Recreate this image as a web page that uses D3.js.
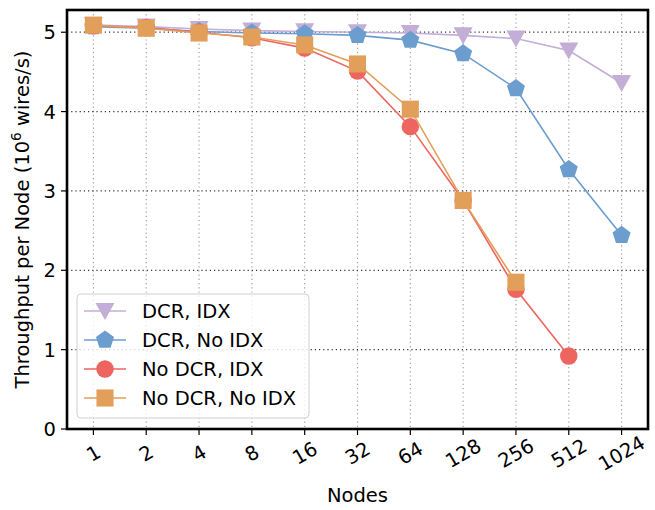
<!DOCTYPE html>
<html>
<head>
<meta charset="utf-8">
<script src="https://cdn.jsdelivr.net/npm/d3@7"></script>
<style>
  html, body { margin: 0; padding: 0; background: #fff; }
  svg { display: block; font-family: "DejaVu Sans", sans-serif; }
</style>
</head>
<body>
<svg id="chart" width="655" height="510"></svg>
<script>
// Node counts on the x axis (categorical, log2 spaced)
const nodes = ["1", "2", "4", "8", "16", "32", "64", "128", "256", "512", "1024"];
const yTicks = [0, 1, 2, 3, 4, 5];

// Throughput per node, 10^6 wires/s
const dcrIdx     = [5.09, 5.07, 5.04, 5.02, 5.01, 5.00, 4.99, 4.96, 4.92, 4.77, 4.36];
const dcrNoIdx   = [5.07, 5.05, 5.01, 4.99, 4.98, 4.96, 4.90, 4.73, 4.29, 3.27, 2.44];
const noDcrIdx   = [5.08, 5.06, 5.00, 4.93, 4.80, 4.51, 3.81, 2.88, 1.76, 0.92];
const noDcrNoIdx = [5.09, 5.05, 4.99, 4.94, 4.84, 4.60, 4.03, 2.88, 1.85];

const seriesNames  = ["DCR, IDX", "DCR, No IDX", "No DCR, IDX", "No DCR, No IDX"];
const seriesValues = [dcrIdx, dcrNoIdx, noDcrIdx, noDcrNoIdx];
const seriesColors = ["#c2aed6", "#6c9dcf", "#ee655f", "#e29f5a"];
const seriesShapes = ["triDown", "pentagon", "circle", "square"];

const svg = d3.select("#chart");
const m = { left: 67, right: 648, top: 10, bottom: 429 };
const FS = 19.5;

const x = d3.scaleLinear().domain([-0.5, nodes.length - 0.5]).range([m.left, m.right]);
const y = d3.scaleLinear().domain([0, 5.28]).range([m.bottom, m.top]);

// grid
const grid = svg.append("g");
grid.selectAll("line.v").data(nodes).join("line")
  .attr("x1", (d, i) => x(i)).attr("x2", (d, i) => x(i))
  .attr("y1", m.top).attr("y2", m.bottom)
  .attr("stroke", "#a0a0a0").attr("stroke-width", 1.2).attr("stroke-dasharray", "1.2,3");
grid.selectAll("line.h").data(yTicks.filter(t => t > 0)).join("line")
  .attr("x1", m.left).attr("x2", m.right)
  .attr("y1", d => y(d)).attr("y2", d => y(d))
  .attr("stroke", "#333").attr("stroke-width", 1.2).attr("stroke-dasharray", "1.2,3");

// marker shapes
function markerPath(shape, s) {
  const r = s / 2;
  if (shape === "triDown") {
    return `M${-r},${-r * 0.85}L${r},${-r * 0.85}L0,${r * 0.95}Z`;
  }
  if (shape === "square") {
    const h = r * 0.9;
    return `M${-h},${-h}L${h},${-h}L${h},${h}L${-h},${h}Z`;
  }
  if (shape === "pentagon") {
    const pr = r * 1.0;
    const pts = d3.range(5).map(k => {
      const a = -Math.PI / 2 + k * 2 * Math.PI / 5;
      return [pr * Math.cos(a), pr * Math.sin(a)];
    });
    return "M" + pts.map(p => p.join(",")).join("L") + "Z";
  }
  const cr = r * 0.92;
  return `M${cr},0A${cr},${cr} 0 1,1 ${-cr},0A${cr},${cr} 0 1,1 ${cr},0Z`;
}

const MS = 19;
const line = d3.line().x((d, i) => x(i)).y(d => y(d));
seriesValues.forEach((vals, k) => {
  const g = svg.append("g");
  g.append("path").datum(vals).attr("d", line)
    .attr("fill", "none").attr("stroke", seriesColors[k]).attr("stroke-width", 1.6);
  g.selectAll("path.mk").data(vals).join("path")
    .attr("transform", (d, i) => `translate(${x(i)},${y(d)})`)
    .attr("d", markerPath(seriesShapes[k], MS))
    .attr("fill", seriesColors[k]);
});

// spines
svg.append("rect").attr("x", m.left).attr("y", m.top)
  .attr("width", m.right - m.left).attr("height", m.bottom - m.top)
  .attr("fill", "none").attr("stroke", "#000").attr("stroke-width", 2.6);

// y axis
const yAxis = svg.append("g");
yAxis.selectAll("line").data(yTicks).join("line")
  .attr("x1", m.left - 6).attr("x2", m.left).attr("y1", d => y(d)).attr("y2", d => y(d))
  .attr("stroke", "#000").attr("stroke-width", 1.2);
yAxis.selectAll("text").data(yTicks).join("text")
  .attr("x", m.left - 11).attr("y", d => y(d)).attr("dy", "0.36em")
  .attr("text-anchor", "end").attr("font-size", FS).text(d => d);

// x axis
const xAxis = svg.append("g");
xAxis.selectAll("line").data(nodes).join("line")
  .attr("x1", (d, i) => x(i)).attr("x2", (d, i) => x(i))
  .attr("y1", m.bottom).attr("y2", m.bottom + 6)
  .attr("stroke", "#000").attr("stroke-width", 1.2);
xAxis.selectAll("text").data(nodes).join("text")
  .attr("transform", (d, i) => `translate(${x(i)},${m.bottom + 24}) rotate(-30)`)
  .attr("text-anchor", "middle").attr("dy", "0.36em")
  .attr("font-size", FS).text(d => d);

// axis titles
svg.append("text").attr("x", (m.left + m.right) / 2).attr("y", 502)
  .attr("text-anchor", "middle").attr("font-size", FS).text("Nodes");
const yl = svg.append("text")
  .attr("transform", `translate(29,${(m.top + m.bottom) / 2}) rotate(-90)`)
  .attr("text-anchor", "middle").attr("font-size", FS);
yl.append("tspan").text("Throughput per Node (10");
yl.append("tspan").attr("font-size", FS * 0.7).attr("dy", -8).text("6");
yl.append("tspan").attr("dy", 8).text(" wires/s)");

// legend
const lg = svg.append("g").attr("transform", "translate(77,294)");
lg.append("rect").attr("width", 232).attr("height", 124).attr("rx", 4)
  .attr("fill", "#fff").attr("fill-opacity", 0.8)
  .attr("stroke", "#d0d0d0").attr("stroke-width", 1);
seriesNames.forEach((name, k) => {
  const yy = 17 + k * 29;
  lg.append("line").attr("x1", 7).attr("x2", 49).attr("y1", yy).attr("y2", yy)
    .attr("stroke", seriesColors[k]).attr("stroke-width", 1.6);
  lg.append("path").attr("transform", `translate(28,${yy})`)
    .attr("d", markerPath(seriesShapes[k], MS)).attr("fill", seriesColors[k]);
  lg.append("text").attr("x", 65).attr("y", yy).attr("dy", "0.36em")
    .attr("font-size", FS).text(name);
});
</script>
</body>
</html>
